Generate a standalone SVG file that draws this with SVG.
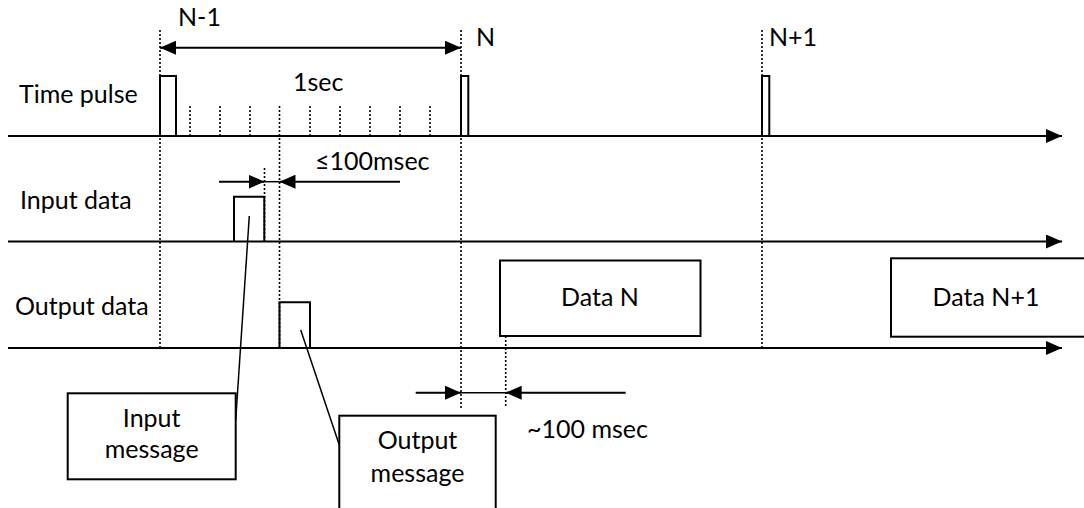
<svg xmlns="http://www.w3.org/2000/svg" width="1084" height="508" viewBox="0 0 1084 508">
<style>
  .lbl { font-family: Lato, "Liberation Sans", sans-serif; font-size: 25px; fill: #000; }
  .mid { text-anchor: middle; }
  .axis { stroke: #000; stroke-width: 2.2; fill: none; }
  .pulse { stroke: #000; stroke-width: 2; fill: none; }
  .box { stroke: #000; stroke-width: 2; fill: #fff; }
  .dot { stroke: #000; stroke-width: 1.6; stroke-dasharray: 2 2; fill: none; }
  .dim { stroke: #000; stroke-width: 2; fill: none; }
  .thin { stroke: #000; stroke-width: 1.5; fill: none; }
</style>
<defs>
  <marker id="ah" markerUnits="userSpaceOnUse" markerWidth="16" markerHeight="14" refX="16" refY="7" orient="auto-start-reverse" viewBox="0 0 16 14">
    <path d="M0,0 L16,7 L0,14 Z" fill="#000"/>
  </marker>
</defs>
<rect width="1084" height="508" fill="#fff"/>

<g id="dotted-guides">
  <path class="dot" d="M160,30 V348"/>
  <path class="dot" d="M461,30 V408"/>
  <path class="dot" d="M762,30 V348"/>
  <path class="dot" d="M279.5,106 V348"/>
  <path class="dot" d="M264.5,168 V241"/>
  <path class="dot" d="M505.7,336 V408"/>
  <path class="dot" d="M190,106 V136 M220,106 V136 M250,106 V136 M310,106 V136 M340,106 V136 M370,106 V136 M400,106 V136 M430,106 V136"/>
</g>

<g id="axes">
  <line class="axis" x1="8" y1="136" x2="1062" y2="136" marker-end="url(#ah)"/>
  <line class="axis" x1="8" y1="241.5" x2="1062" y2="241.5" marker-end="url(#ah)"/>
  <line class="axis" x1="8" y1="348" x2="1062" y2="348" marker-end="url(#ah)"/>
</g>

<g id="time-pulse">
  <text class="lbl" x="19" y="103">Time pulse</text>
  <path class="pulse" d="M160,136 V76 H176 V136"/>
  <path class="pulse" d="M461,136 V76 H468.3 V136"/>
  <path class="pulse" d="M762,136 V76 H769.3 V136"/>
  <text class="lbl" x="178" y="26">N-1</text>
  <text class="lbl" x="476" y="46">N</text>
  <text class="lbl" x="769" y="46">N+1</text>
  <text class="lbl" x="293" y="91">1sec</text>
</g>

<g id="input-data">
  <text class="lbl" x="20" y="209">Input data</text>
  <path class="pulse" d="M234,241.5 V196.7 H264.3 V241.5"/>
  <text class="lbl" x="315" y="170">≤100msec</text>
</g>

<g id="output-data">
  <text class="lbl" x="15" y="315">Output data</text>
  <path class="pulse" d="M279.5,348 V302.3 H310 V348"/>
</g>

<g id="data-n">
  <rect class="box" x="500" y="260.5" width="200.5" height="75.5"/>
  <text class="lbl mid" x="600" y="306">Data N</text>
</g>

<g id="data-n1">
  <rect class="box" x="891" y="258.3" width="200" height="78.4"/>
  <text class="lbl mid" x="986" y="306">Data N+1</text>
</g>

<g id="input-message">
  <rect class="box" x="67.7" y="393.3" width="168" height="86"/>
  <text class="lbl mid" x="151.7" y="427">Input</text>
  <text class="lbl mid" x="151.7" y="458">message</text>
</g>

<g id="output-message">
  <rect class="box" x="339.3" y="415.7" width="156.4" height="100"/>
  <text class="lbl mid" x="417.5" y="449">Output</text>
  <text class="lbl mid" x="417.5" y="481.5">message</text>
</g>

<g id="connectors">
  <line class="dim" x1="160" y1="47.7" x2="461" y2="47.7" marker-start="url(#ah)" marker-end="url(#ah)"/>
  <line class="dim" x1="219" y1="181.7" x2="264.5" y2="181.7" marker-end="url(#ah)"/>
  <line class="thin" x1="264.5" y1="181.7" x2="279.5" y2="181.7"/>
  <line class="dim" x1="400" y1="181.7" x2="279.5" y2="181.7" marker-end="url(#ah)"/>
  <line class="dim" x1="415.7" y1="392.7" x2="461" y2="392.7" marker-end="url(#ah)"/>
  <line class="thin" x1="461" y1="392.7" x2="505.7" y2="392.7"/>
  <line class="dim" x1="625.7" y1="392.7" x2="505.7" y2="392.7" marker-end="url(#ah)"/>
  <line class="thin" x1="249.3" y1="216" x2="235.7" y2="420"/>
  <line class="thin" x1="300.7" y1="330" x2="339.3" y2="445"/>
</g>
<text class="lbl" x="527" y="438">~100 msec</text>
</svg>
